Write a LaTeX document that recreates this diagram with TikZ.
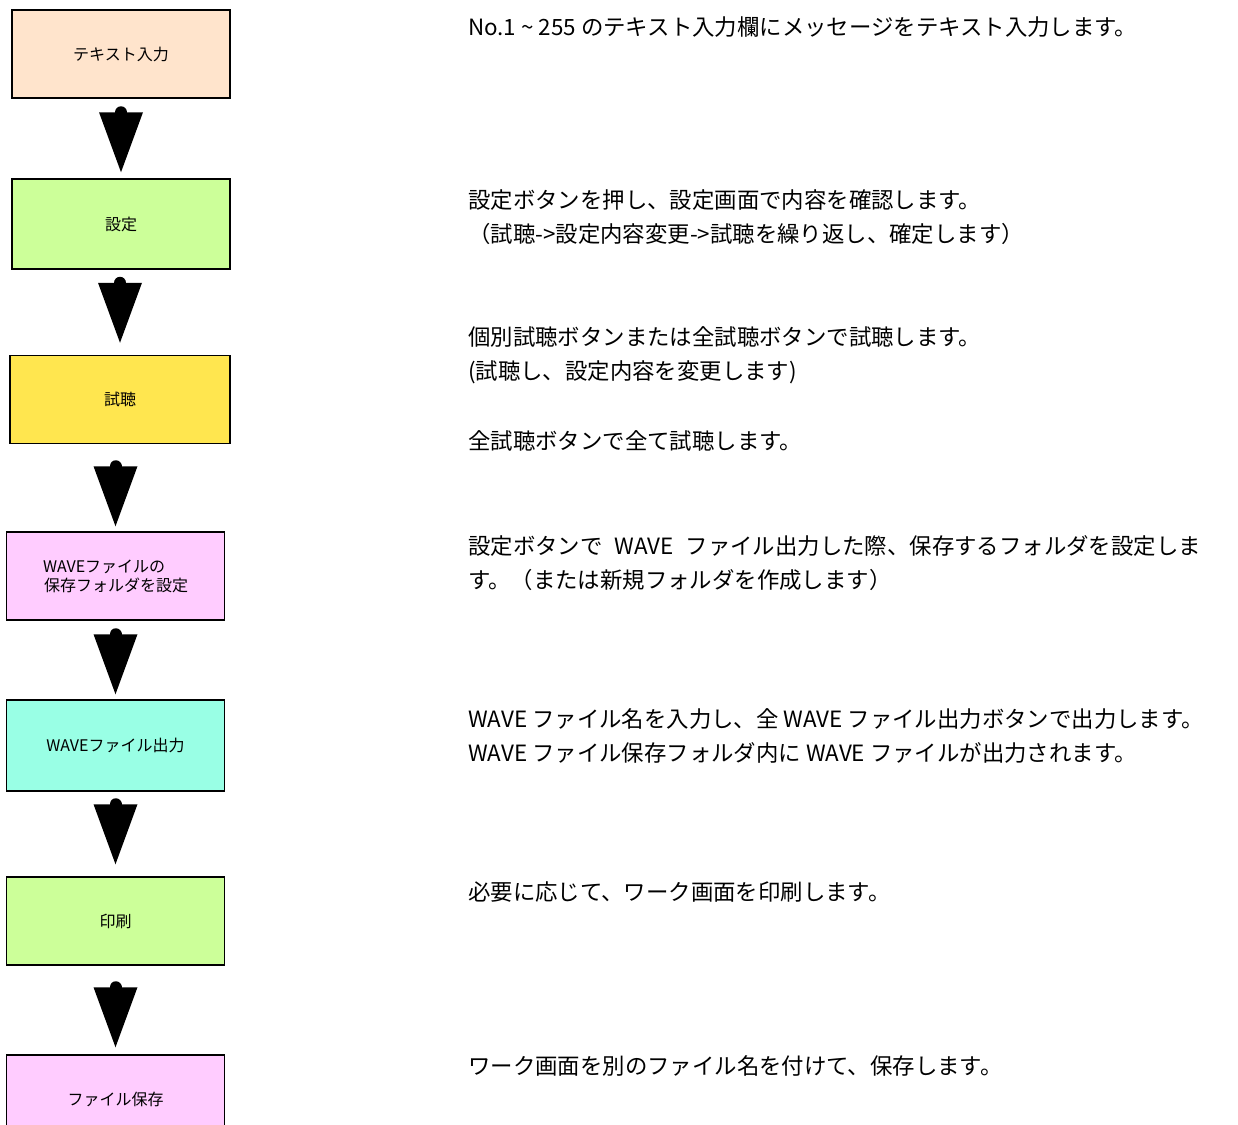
\documentclass[tikz,border=0pt]{standalone}
\usepackage{fontspec}
\setmainfont{Noto Sans CJK JP}
\usetikzlibrary{arrows.meta}
\definecolor{peach}{HTML}{FFE4CC}
\definecolor{lime}{HTML}{CCFF99}
\definecolor{gold}{HTML}{FFE64F}
\definecolor{rose}{HTML}{FFCCFF}
\definecolor{aqua}{HTML}{99FFE5}
\tikzset{
	stepbox/.style={
			draw, line width=1.5pt, minimum width=218pt, minimum height=88pt,
			align=left, font=\fontsize{16}{19}\selectfont
		},
	flowline/.style={
			line width=12pt, line cap=round,
			-{Triangle[width=44pt,length=60pt,line width=0pt]}
		},
	note/.style={anchor=west, align=left, inner sep=0pt, font=\fontsize{22.4}{34}\selectfont}
}

\begin{document}
\begin{tikzpicture}[x=1pt,y=-1pt]
			\useasboundingbox (0,0) rectangle (1238,1124);
			\clip (0,0) rectangle (1238,1124);
			\node[stepbox,fill=peach] (input) at (121,54) {テキスト入力};
			\node[stepbox,fill=lime,minimum height=90pt] (setup) at (121,224) {設定};
			\node[stepbox,fill=gold,minimum width=220pt] (listen) at (120,399.5) {試聴};
			\node[stepbox,fill=rose] (folder) at (115.5,576) {WAVEファイルの\\\hspace{1pt}保存フォルダを設定};
			\node[stepbox,fill=aqua,minimum height=91pt] (wave) at (115.5,745.5) {WAVEファイル出力};
			\node[stepbox,fill=lime] (print) at (115.5,921) {印刷};
			\node[stepbox,fill=rose] (save) at (115.5,1099) {ファイル保存};
			\foreach \a/\b/\s/\e in {input/setup/15/6, setup/listen/15/12, listen/folder/23/5,
					folder/wave/16/5, wave/print/15/12, print/save/23/7}
				\draw[flowline, shorten <=\s pt, shorten >=\e pt] (\b.north |- \a.south) -- (\b.north);
			\node[note] (n1) at (468,27) {No.1 \textasciitilde\ 255 のテキスト入力欄にメッセージをテキスト入力します。};
			\node[note] (n2) at (468,217) {設定ボタンを押し、設定画面で内容を確認します。\\（試聴->設定内容変更->試聴を繰り返し、確定します）};
			\node[note] (n3) at (468,355) {個別試聴ボタンまたは全試聴ボタンで試聴します。\\(試聴し、設定内容を変更します)};
			\node[note] (n4) at (468,441) {全試聴ボタンで全て試聴します。};
			\node[note] (n5) at (468,563) {設定ボタンで\hspace{12pt}WAVE\hspace{12pt}ファイル出力した際、保存するフォルダを設定しま\\す。（または新規フォルダを作成します）};
			\node[note] (n6) at (468,736) {WAVE ファイル名を入力し、全 WAVE ファイル出力ボタンで出力します。\\WAVE ファイル保存フォルダ内に WAVE ファイルが出力されます。};
			\node[note] (n7) at (468,892) {必要に応じて、ワーク画面を印刷します。};
			\node[note] (n8) at (468,1066) {ワーク画面を別のファイル名を付けて、保存します。};
		\end{tikzpicture}
\end{document}
